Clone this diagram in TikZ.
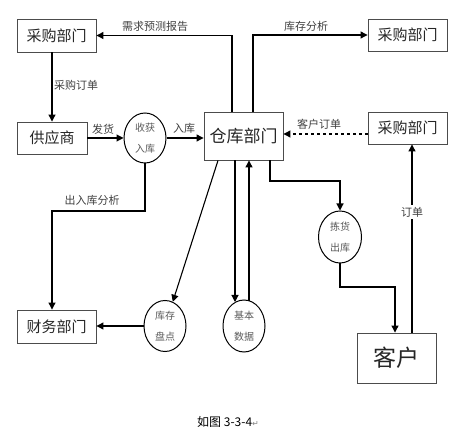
\documentclass[tikz,border=0pt]{standalone}
\usepackage{fontspec}
\newfontfamily\cjk{Noto Sans CJK SC}
\newfontfamily\djv{DejaVu Sans}
\usetikzlibrary{arrows.meta,shapes.geometric}
\begin{document}
\begin{tikzpicture}[x=1pt,y=-1pt,
  box/.style={draw=black!70,line width=0.9pt,rectangle,inner sep=0pt,text=black!85,font=\cjk},
  proc/.style={draw=black,line width=1pt,ellipse,inner sep=0pt,minimum width=42pt,minimum height=51pt,text=black!65,font=\cjk\fontsize{10}{21}\selectfont,align=center},
  arr/.style={line width=1.1pt,-{Triangle[length=7pt,width=7pt]}},
  lbl/.style={font=\cjk\fontsize{11}{13}\selectfont,text=black!75,inner sep=1pt}]
\useasboundingbox (0,0) rectangle (463,438);
% boxes
\node[box,minimum width=79pt,minimum height=33pt,font=\cjk\fontsize{15}{17}\selectfont] (p1) at (56.5,35.5) {采购部门};
\node[box,minimum width=70pt,minimum height=32pt,font=\cjk\fontsize{15}{17}\selectfont] (sup) at (52,138) {供应商};
\node[box,minimum width=79pt,minimum height=48pt,font=\cjk\fontsize{17}{19}\selectfont] (wh) at (243.5,136) {仓库部门};
\node[box,minimum width=79pt,minimum height=32pt,font=\cjk\fontsize{15}{17}\selectfont] (p2) at (407.5,35) {采购部门};
\node[box,minimum width=79pt,minimum height=32pt,font=\cjk\fontsize{15}{17}\selectfont] (p3) at (407.5,128) {采购部门};
\node[box,minimum width=79pt,minimum height=33pt,font=\cjk\fontsize{15}{17}\selectfont] (fin) at (56.5,326.5) {财务部门};
\node[box,minimum width=79pt,minimum height=50pt,font=\cjk\fontsize{23}{25}\selectfont] (cust) at (396.5,358) {客户};
% processes
\node[proc,minimum height=50pt] (recv) at (145,138) {收获\\入库};
\node[proc] (inv) at (165,326) {库存\\盘点};
\node[proc,minimum height=52pt] (basic) at (244,326) {基本\\数据};
\node[proc,minimum width=43pt,minimum height=52pt] (pick) at (340,237) {拣货\\出库};
% helper coordinates
\coordinate (b1) at (52,211);
\coordinate (b2) at (340,181);
\coordinate (b3) at (395,287);
% connectors
\draw[arr] ([xshift=-11.5pt]wh.north) |- (p1);
\draw[arr] ([xshift=9.5pt]wh.north) |- (p2);
\draw[arr] (p1.south -| sup.north) -- (sup.north);
\draw[arr] (sup) -- (recv);
\draw[arr] (recv.east) -- (recv.east -| wh.west);
\draw[arr,dashed] ([yshift=-6pt]p3.west) -- ([yshift=-6pt]p3.west -| wh.east);
\draw[arr] (recv.south) |- (b1) -- (b1 |- fin.north);
\draw[arr] ([xshift=-25.5pt]wh.south) -- (inv);
\draw[arr] (inv.west) -- (inv.west -| fin.east);
\draw[arr] ([xshift=-9pt]basic.north |- wh.south) -- ([xshift=-9pt,yshift=-2.5pt]basic.north);
\draw[arr] ([xshift=5pt,yshift=-1pt]basic.north) -- ([xshift=5pt]basic.north |- wh.south);
\draw[arr] ([xshift=26.5pt]wh.south) |- (b2) -- (pick.north);
\draw[arr] (pick.south) |- (b3) -- (b3 |- cust.north);
\draw[arr] ([xshift=15.5pt]cust.north) -- ([xshift=15.5pt]cust.north |- p3.south)
  node[pos=0.64,lbl,fill=white,inner sep=2pt] (lorder) {订单};
% labels
\node[lbl] (l1) at (155,26) {需求预测报告};
\node[lbl] (l2) at (306,26) {库存分析};
\node[lbl] (l3) at (76,85) {采购订单};
\node[lbl] (l4) at (103,129) {发货};
\node[lbl] (l5) at (184,128) {入库};
\node[lbl] (l6) at (319,124) {客户订单};
\node[lbl] (l7) at (92,200) {出入库分析};
\node[anchor=west,inner sep=0pt,font=\cjk\fontsize{12}{14}\selectfont] (cap) at (197,422) {如图 3-3-4{\djv\fontsize{8}{10}\selectfont\color{black!50}↵}};
\end{tikzpicture}
\end{document}
